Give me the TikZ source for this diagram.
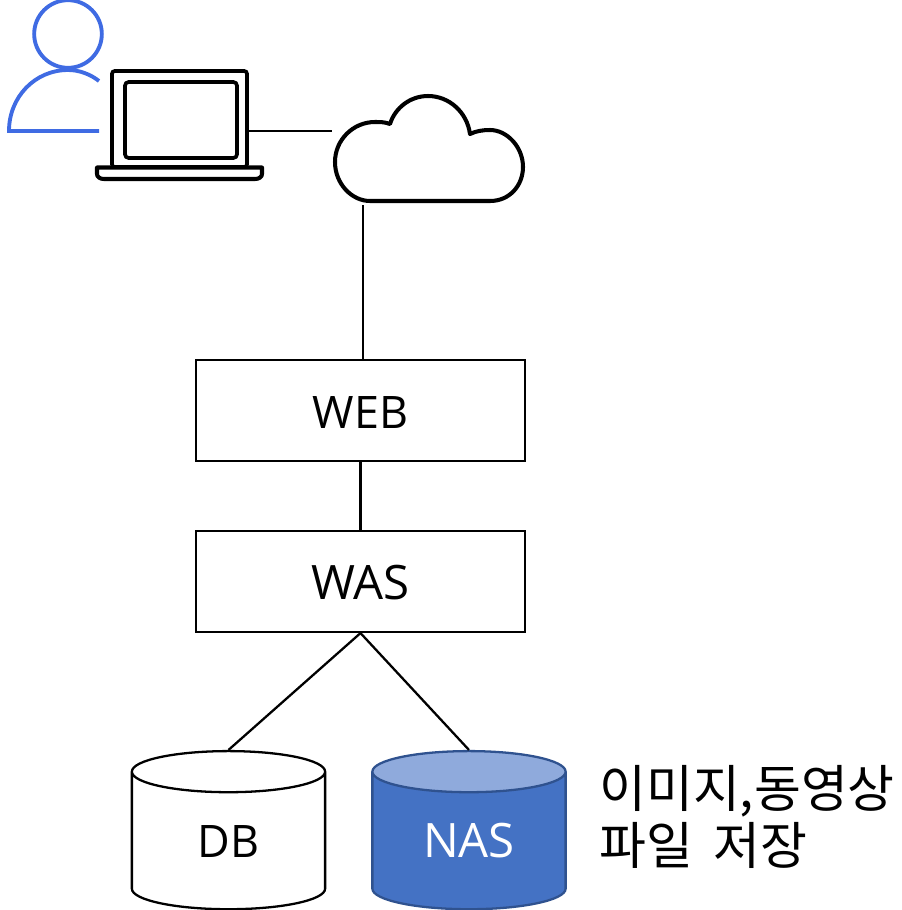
\documentclass[tikz,border=0pt]{standalone}
\usepackage{fontspec}
\setmainfont{Open Sans}
\newfontfamily\krfont{Noto Sans CJK KR}
\usepackage{xcolor}
\usetikzlibrary{shapes.geometric}
\definecolor{userblue}{HTML}{3F6BE3}
\definecolor{nasfill}{HTML}{4472C4}
\definecolor{nastop}{HTML}{8FAADC}
\definecolor{nasline}{HTML}{2F528F}
\tikzstyle{tierbox} = [rectangle, draw, line width=1.2pt, minimum width=187pt, minimum height=57.5pt, inner sep=0pt, text height=20.4pt, text depth=0pt, font=\fontsize{25.5}{32}\selectfont]
\tikzstyle{storage} = [cylinder, shape border rotate=90, aspect=0.39, draw, line width=1.3pt, minimum width=110pt, minimum height=90pt, inner sep=0pt, text width=60pt, text height=18.5pt, text depth=0pt, align=center, font=\fontsize{25.5}{32}\selectfont]
\tikzstyle{link} = [line width=1.3pt]
\tikzstyle{icon} = [line width=2.3pt, line join=round]

\begin{document}
\begin{tikzpicture}[x=0.02cm, y=-0.02cm]
\useasboundingbox (0,0) rectangle (902,910);

% user
\node [circle, draw=userblue, line width=2.2pt, minimum size=38.5pt, inner sep=0pt] at (68,34) (head) {};
\draw [userblue, line width=2.2pt] (99,81) .. controls (90,74) and (79,70) .. (68,70) .. controls (35,70) and (9,97) .. (9,131) -- (99,131);

% laptop
\node [rectangle, draw, line width=2.1pt, rounded corners=1.5pt, minimum width=76.8pt, minimum height=54.6pt, inner sep=0pt] at (179.5,119) (laptop) {};
\node [rectangle, draw, line width=2.1pt, rounded corners=2pt, minimum width=63.7pt, minimum height=43.2pt, inner sep=0pt] at (181,120) (screen) {};
\draw [icon] (97,167.5) -- (262,167.5) -- (262,174) .. controls (262,177) and (259,179) .. (255,179) -- (104,179) .. controls (100,179) and (97,177) .. (97,174) -- cycle;
\coordinate (lapout) at (249,131);

% cloud
\draw [icon] (370,201) -- (490,201) .. controls (510,201) and (523,185) .. (523,167) .. controls (523,147) and (507,130) .. (490,130) .. controls (483,130) and (476,131) .. (470,134) .. controls (467,112) and (449,96) .. (428,96) .. controls (410,96) and (395,108) .. (390,124) .. controls (385,122) and (380,122) .. (375,122) .. controls (353,122) and (335,140) .. (335,162) .. controls (335,184) and (352,201) .. (370,201) -- cycle;
\coordinate (cloudin) at (332,131);
\coordinate (cloudout) at (363,205);

% servers
\node [tierbox] at (360.5,410.5) (web) {WEB};
\node [tierbox, font=\fontsize{27}{32}\selectfont] at (360.5,581.5) (was) {WAS};

% storage
\node [storage] at (228.5,841) (db) {DB};
\node [storage, draw=nasline, text=white, font=\fontsize{27}{32}\selectfont, cylinder uses custom fill, cylinder body fill=nasfill, cylinder end fill=nastop] at (469,841) (nas) {NAS};
\node [anchor=west, align=left, inner sep=0pt, font=\krfont\fontsize{29}{32.5}\selectfont] at (599,817) (nasnote) {이미지,동영상\\파일\hspace{5pt} 저장};

% links
\draw [link] (lapout) -- (cloudin);
\draw [link] (cloudout) -- (web.north -| cloudout);
\draw [link] (web) -- (was);
\draw [link] (was.south) -- (db.north);
\draw [link] (was.south) -- (nas.north);
\end{tikzpicture}
\end{document}
